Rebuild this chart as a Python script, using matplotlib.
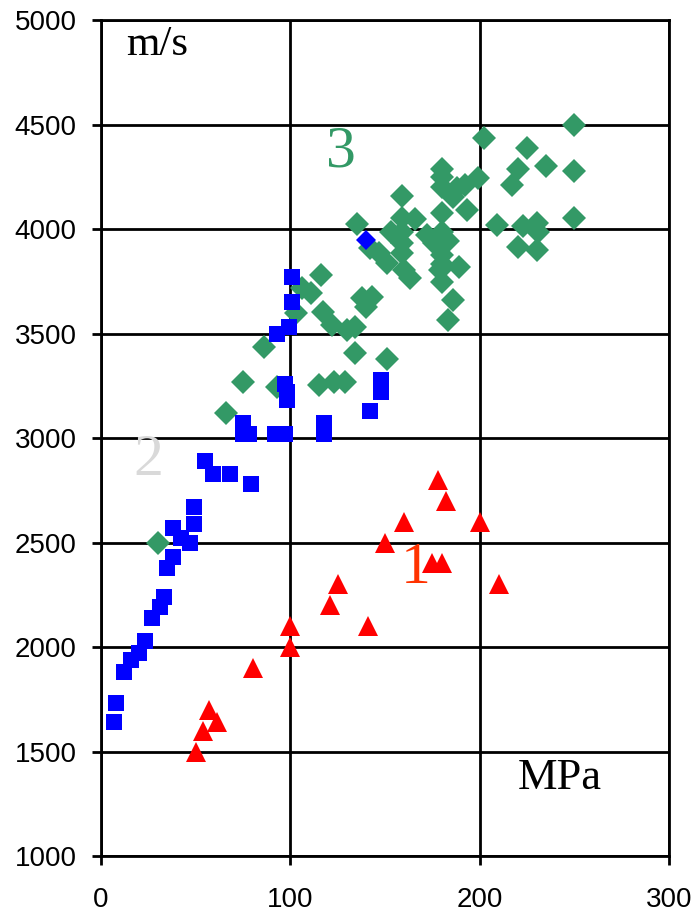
import matplotlib
matplotlib.use("Agg")
import matplotlib.pyplot as plt

# series 1 (red triangles)
x1 = [50, 54, 57, 61, 80, 100, 100, 121, 125, 141, 150, 160, 175, 180, 178, 182, 200, 210]
y1 = [1500, 1600, 1700, 1640, 1900, 2100, 2000, 2200, 2300, 2100, 2500, 2600, 2400, 2400, 2800, 2700, 2600, 2300]

# series 2 (blue squares)
x2 = [7, 8, 12, 16, 20, 23, 27, 31, 33, 35, 38, 38, 42, 47, 49, 49, 55, 59, 68, 79,
      75, 75, 78, 92, 97, 98, 98, 97, 93, 99, 101, 101, 118, 118, 142, 148, 148]
y2 = [1640, 1730, 1880, 1940, 1970, 2030, 2140, 2190, 2240, 2380, 2430, 2570, 2520, 2500, 2590, 2670, 2890, 2830, 2830, 2780,
      3070, 3020, 3020, 3020, 3020, 3180, 3220, 3260, 3500, 3530, 3650, 3770, 3070, 3020, 3130, 3220, 3280]

# series 3 (green diamonds)
x3 = [30, 66, 75, 86, 93, 103, 106, 111, 116, 117, 122, 138, 143, 140, 130, 134, 134, 151, 115, 123, 129,
      250, 202, 225, 220, 235, 250, 180, 180, 199, 192, 188, 217, 180, 186, 159, 180, 193, 135, 159, 166,
      209, 223, 230, 250, 231, 220, 230, 153, 159, 172, 180, 183, 176, 142, 147, 151, 159, 159, 160, 163,
      180, 180, 179, 189, 180, 186, 183]
y3 = [2500, 3120, 3270, 3435, 3245, 3600, 3720, 3695, 3780, 3605, 3540, 3670, 3675, 3625, 3515, 3530, 3405, 3380, 3255, 3270, 3270,
      4500, 4435, 4390, 4290, 4300, 4280, 4290, 4250, 4245, 4210, 4195, 4210, 4200, 4155, 4160, 4075, 4090, 4025, 4055, 4050,
      4020, 4015, 4030, 4055, 3985, 3915, 3900, 3985, 3985, 3970, 3985, 3945, 3935, 3910, 3885, 3840, 3935, 3885, 3805, 3765,
      3875, 3835, 3805, 3820, 3745, 3660, 3565]

# one point of series 3 drawn in blue
x3b = [140]
y3b = [3947]

fig = plt.figure(figsize=(6.97, 9.16), dpi=100)
ax = fig.add_axes([0.145, 0.0655, 0.815, 0.9125])

ax.plot(x3, y3, linestyle='none', marker='D', markersize=12, color='#339966', markeredgewidth=0, zorder=3)
ax.plot(x2, y2, linestyle='none', marker='s', markersize=12, color='#0000ff', markeredgewidth=0, zorder=4)
ax.plot(x3b, y3b, linestyle='none', marker='D', markersize=10, color='#0000ff', markeredgewidth=0, zorder=4)
ax.plot(x1, y1, linestyle='none', marker='^', markersize=14.5, color='#ff0000', markeredgewidth=0, zorder=5)

ax.set_xlim(0, 300)
ax.set_ylim(1000, 5000)
ax.set_xticks([0, 100, 200, 300])
ax.set_yticks(range(1000, 5001, 500))
ax.grid(True, color='black', linewidth=2)
ax.set_axisbelow(True)
for s in ax.spines.values():
    s.set_linewidth(2)
ax.tick_params(direction='out', length=6.5, width=2, labelsize=20)
ax.tick_params(axis='y', pad=11)
ax.tick_params(axis='x', pad=16)
for lab in ax.get_xticklabels() + ax.get_yticklabels():
    lab.set_fontfamily('Liberation Sans')

serif = 'Liberation Serif'
ax.text(13, 4880, 'm/s', fontsize=31, family=serif, ha='left', va='center')
ax.text(220, 1373, 'MPa', fontsize=32, family=serif, ha='left', va='center')
ax.text(126.6, 4368, '3', fontsize=43, family=serif, color='#339966', ha='center', va='center')
ax.text(25, 2890, '2', fontsize=43, family=serif, color='#d9d9d9', ha='center', va='center')
ax.text(166, 2373, '1', fontsize=43, family=serif, color='#ff3300', ha='center', va='center')

fig.savefig('out.png', dpi=100)
